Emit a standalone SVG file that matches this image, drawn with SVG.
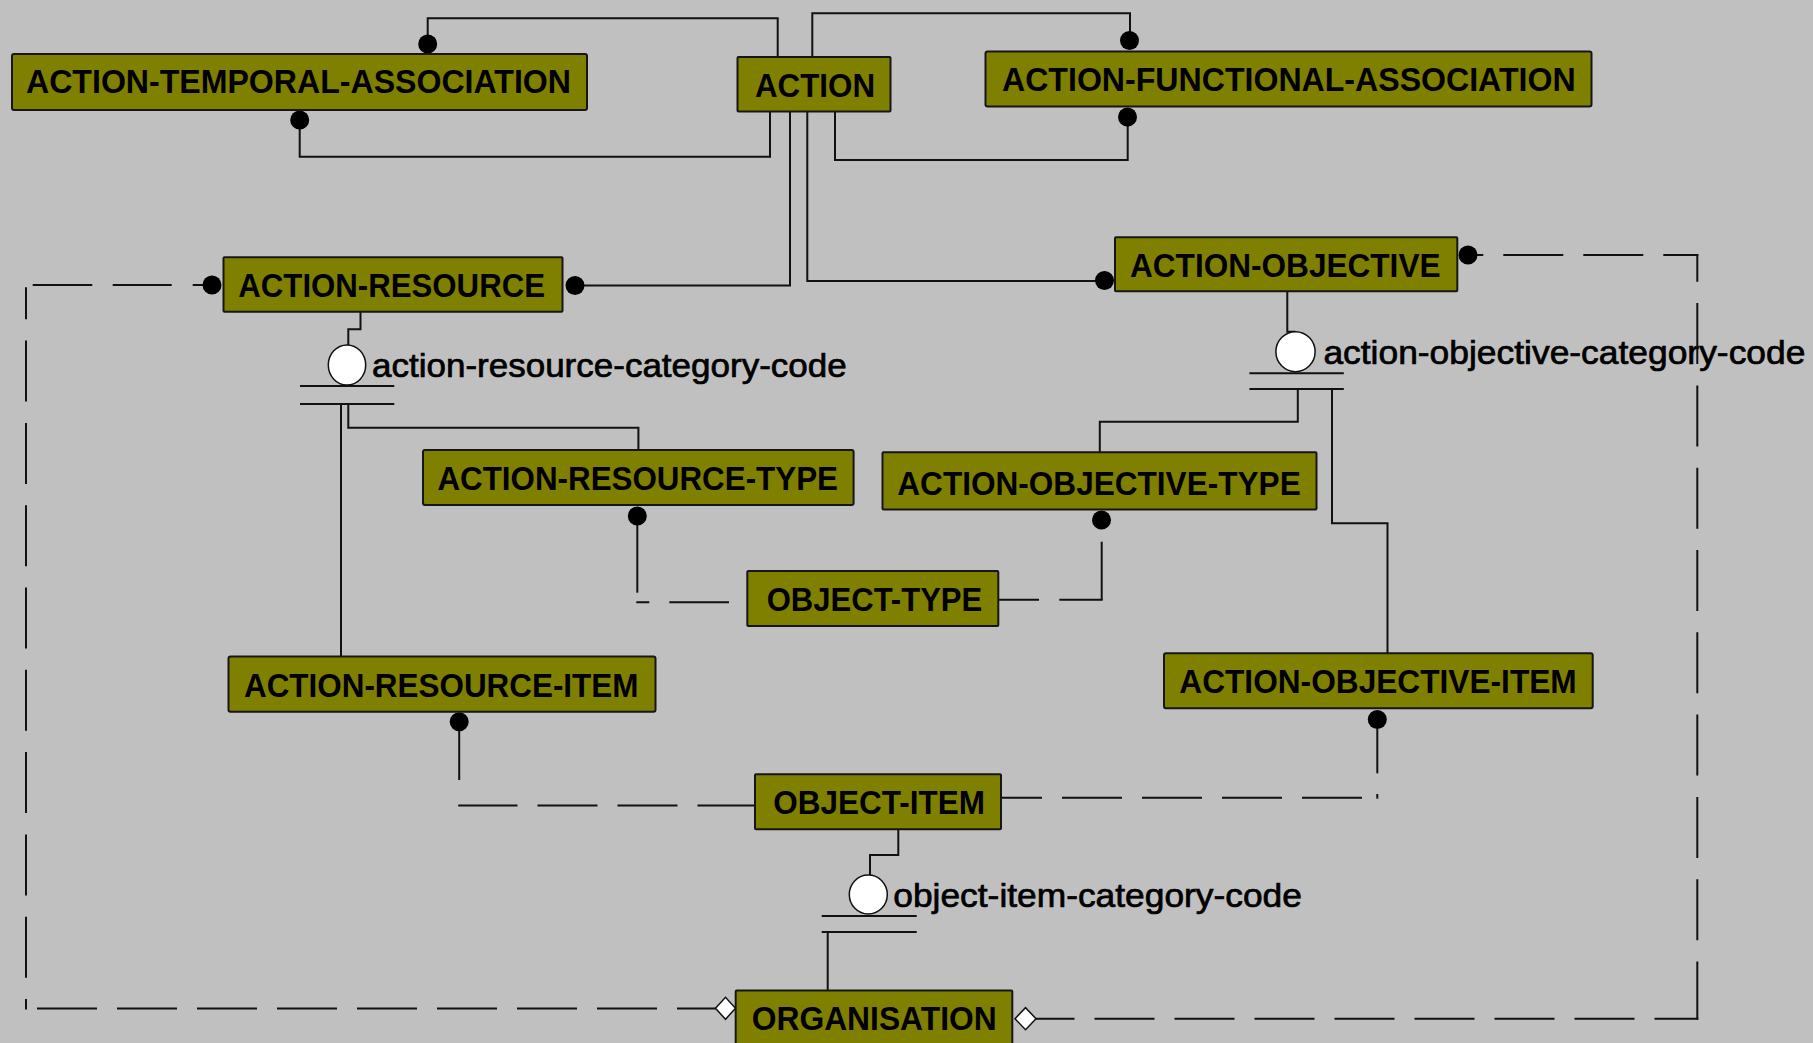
<svg xmlns="http://www.w3.org/2000/svg" width="1813" height="1043" viewBox="0 0 1813 1043">
  <style>
    .bg { fill: #c0c0c0; }
    .box { fill: #808000; stroke: #161616; stroke-width: 2; }
    .name { font-family: "Liberation Sans", Arial, sans-serif; font-weight: bold; font-size: 34px; fill: #000; }
    .lbl { font-family: "Liberation Sans", Arial, sans-serif; font-size: 33px; fill: #000; stroke: #000; stroke-width: 0.7; }
    .ln { fill: none; stroke: #111; stroke-width: 2; }
    .dash { fill: none; stroke: #111; stroke-width: 2; stroke-dasharray: 60 20; }
    .dot { fill: #000; }
    .ring { fill: #fff; stroke: #111; stroke-width: 1.5; }
    .dia { fill: #fff; stroke: #111; stroke-width: 1.5; }
  </style>

  <rect class="bg" x="0" y="0" width="1813" height="1043"/>

  <!-- relationships -->
  <g id="connectors">
    <!-- ACTION <-> ACTION-TEMPORAL-ASSOCIATION -->
    <path class="ln" d="M427.7 44 V18.3 H777.7 V57"/>
    <path class="ln" d="M299.7 120 V156.7 H770 V111"/>
    <!-- ACTION <-> ACTION-FUNCTIONAL-ASSOCIATION -->
    <path class="ln" d="M812.3 57 V13.3 H1130 V40"/>
    <path class="ln" d="M835 111 V160 H1127.7 V117"/>
    <!-- ACTION -> ACTION-RESOURCE / ACTION-OBJECTIVE -->
    <path class="ln" d="M790 111 V285.5 H575"/>
    <path class="ln" d="M807.3 111 V281 H1104"/>

    <!-- action-resource category -->
    <path class="ln" d="M360.5 311.7 V329.3 H348.3 V345"/>
    <line class="ln" x1="300" y1="386" x2="394.3" y2="386"/>
    <line class="ln" x1="300" y1="404" x2="394.3" y2="404"/>
    <path class="ln" d="M341 404 V657"/>
    <path class="ln" d="M348.3 404 V427.7 H638.4 V450"/>
    <ellipse class="ring" cx="347" cy="365" rx="18.7" ry="20"/>
    <text class="lbl" x="372" y="376.7" textLength="474.7" lengthAdjust="spacingAndGlyphs">action-resource-category-code</text>

    <!-- action-objective category -->
    <path class="ln" d="M1287.3 291 V331.7 H1295.5"/>
    <line class="ln" x1="1249.4" y1="373.3" x2="1343.8" y2="373.3"/>
    <line class="ln" x1="1249.4" y1="389" x2="1343.8" y2="389"/>
    <path class="ln" d="M1297.8 389 V421.7 H1099.8 V452"/>
    <path class="ln" d="M1332 389 V523.3 H1387.5 V653.3"/>
    <ellipse class="ring" cx="1295.5" cy="351.7" rx="19.6" ry="20"/>
    <text class="lbl" x="1323.4" y="363.8" textLength="482" lengthAdjust="spacingAndGlyphs">action-objective-category-code</text>

    <!-- object-item category -->
    <path class="ln" d="M898.3 829.3 V855 H870 V875"/>
    <line class="ln" x1="821.7" y1="916" x2="916.7" y2="916"/>
    <line class="ln" x1="821.7" y1="932" x2="916.7" y2="932"/>
    <path class="ln" d="M827.7 932 V991"/>
    <ellipse class="ring" cx="868.3" cy="894.5" rx="19" ry="19.5"/>
    <text class="lbl" x="893.3" y="906.7" textLength="408.6" lengthAdjust="spacingAndGlyphs">object-item-category-code</text>

    <!-- ACTION-RESOURCE-TYPE - - OBJECT-TYPE -->
    <line class="ln" x1="637.3" y1="516" x2="637.3" y2="592.7"/>
    <line class="ln" x1="636.3" y1="602.3" x2="747.3" y2="602.3" style="stroke-dasharray: 13 20 59.7 100"/>
    <!-- OBJECT-TYPE - - ACTION-OBJECTIVE-TYPE -->
    <line class="ln" x1="998.3" y1="599.7" x2="1102.7" y2="599.7" style="stroke-dasharray: 40.7 20.3 100"/>
    <line class="ln" x1="1101.7" y1="599.7" x2="1101.7" y2="541.7"/>
    <!-- OBJECT-ITEM - - ACTION-RESOURCE-ITEM -->
    <line class="dash" x1="755" y1="805.5" x2="458.2" y2="805.5" stroke-dashoffset="2.5"/>
    <line class="ln" x1="459.2" y1="780" x2="459.2" y2="721.7"/>
    <!-- OBJECT-ITEM - - ACTION-OBJECTIVE-ITEM -->
    <line class="dash" x1="1001" y1="797.7" x2="1377" y2="797.7" stroke-dashoffset="19"/>
    <line class="ln" x1="1377.3" y1="798.7" x2="1377.3" y2="794"/>
    <line class="ln" x1="1377.3" y1="773.3" x2="1377.3" y2="719.3"/>
    <!-- ACTION-RESOURCE - - ORGANISATION -->
    <line class="ln" x1="212" y1="285" x2="26" y2="285" style="stroke-dasharray: 19.3 21 59 20.4 59.6 100"/>
    <line class="ln" x1="26" y1="287.3" x2="26" y2="1009.5" style="stroke-dasharray: 61 21.3" stroke-dashoffset="29"/>
    <line class="dash" x1="37" y1="1008.5" x2="716" y2="1008.5"/>
    <!-- ACTION-OBJECTIVE - - ORGANISATION -->
    <line class="dash" x1="1468" y1="255" x2="1698.3" y2="255" stroke-dashoffset="44.7"/>
    <line class="ln" x1="1697.3" y1="254" x2="1697.3" y2="1019.7" style="stroke-dasharray: 61 21.3" stroke-dashoffset="33.2"/>
    <line class="dash" x1="1036" y1="1018.7" x2="1698.3" y2="1018.7" stroke-dashoffset="21.5"/>

    <!-- end markers -->
    <circle class="dot" cx="427.7" cy="44" r="9.5"/>
    <circle class="dot" cx="299.7" cy="120" r="9.5"/>
    <circle class="dot" cx="1129.5" cy="40.5" r="9.5"/>
    <circle class="dot" cx="1127.5" cy="117" r="9.5"/>
    <circle class="dot" cx="212" cy="285" r="9.5"/>
    <circle class="dot" cx="575" cy="285.5" r="9.5"/>
    <circle class="dot" cx="1104.5" cy="280.5" r="9.5"/>
    <circle class="dot" cx="1468" cy="255" r="9.5"/>
    <circle class="dot" cx="637.3" cy="516" r="9.5"/>
    <circle class="dot" cx="1101.5" cy="520" r="9.5"/>
    <circle class="dot" cx="459.2" cy="721.7" r="9.5"/>
    <circle class="dot" cx="1377.3" cy="719.5" r="9.5"/>
    <polygon class="dia" points="715.5,1008.3 725.5,997.3 735.5,1008.3 725.5,1019.3"/>
    <polygon class="dia" points="1015,1018.7 1025.5,1007.7 1036,1018.7 1025.5,1029.7"/>
  </g>

  <!-- entities -->
  <g id="action-temporal-association">
    <rect class="box" x="12" y="54" width="575" height="56" rx="2"/>
    <text class="name" x="26" y="93.3" textLength="545" lengthAdjust="spacingAndGlyphs">ACTION-TEMPORAL-ASSOCIATION</text>
  </g>
  <g id="action">
    <rect class="box" x="737.5" y="57" width="153" height="54.5" rx="1"/>
    <text class="name" x="755" y="96.7" textLength="120" lengthAdjust="spacingAndGlyphs">ACTION</text>
  </g>
  <g id="action-functional-association">
    <rect class="box" x="985.5" y="51.5" width="606" height="55" rx="2"/>
    <text class="name" x="1002" y="90.7" textLength="573.6" lengthAdjust="spacingAndGlyphs">ACTION-FUNCTIONAL-ASSOCIATION</text>
  </g>
  <g id="action-resource">
    <rect class="box" x="223.5" y="257.3" width="339" height="54.4" rx="1"/>
    <text class="name" x="238.3" y="296.7" textLength="306.7" lengthAdjust="spacingAndGlyphs">ACTION-RESOURCE</text>
  </g>
  <g id="action-objective">
    <rect class="box" x="1115" y="237.3" width="342.3" height="54" rx="1"/>
    <text class="name" x="1130" y="276.8" textLength="310.5" lengthAdjust="spacingAndGlyphs">ACTION-OBJECTIVE</text>
  </g>
  <g id="action-resource-type">
    <rect class="box" x="423" y="450" width="430.6" height="55" rx="2"/>
    <text class="name" x="437.4" y="490" textLength="400.6" lengthAdjust="spacingAndGlyphs">ACTION-RESOURCE-TYPE</text>
  </g>
  <g id="action-objective-type">
    <rect class="box" x="882.5" y="452.3" width="434" height="57.2" rx="1"/>
    <text class="name" x="897.3" y="495" textLength="403.4" lengthAdjust="spacingAndGlyphs">ACTION-OBJECTIVE-TYPE</text>
  </g>
  <g id="object-type">
    <rect class="box" x="747.3" y="571" width="251" height="55" rx="1"/>
    <text class="name" x="766.7" y="611" textLength="215.6" lengthAdjust="spacingAndGlyphs">OBJECT-TYPE</text>
  </g>
  <g id="action-resource-item">
    <rect class="box" x="228.5" y="656.5" width="427" height="55.2" rx="2"/>
    <text class="name" x="244" y="696.7" textLength="394.4" lengthAdjust="spacingAndGlyphs">ACTION-RESOURCE-ITEM</text>
  </g>
  <g id="action-objective-item">
    <rect class="box" x="1164" y="653.3" width="428.7" height="55" rx="2"/>
    <text class="name" x="1179.3" y="693.3" textLength="397.4" lengthAdjust="spacingAndGlyphs">ACTION-OBJECTIVE-ITEM</text>
  </g>
  <g id="object-item">
    <rect class="box" x="755" y="774.3" width="246" height="55" rx="1"/>
    <text class="name" x="773.3" y="814" textLength="211.7" lengthAdjust="spacingAndGlyphs">OBJECT-ITEM</text>
  </g>
  <g id="organisation">
    <rect class="box" x="735.7" y="990.5" width="276.6" height="60" rx="1"/>
    <text class="name" x="751.7" y="1030" textLength="245" lengthAdjust="spacingAndGlyphs">ORGANISATION</text>
  </g>
</svg>
